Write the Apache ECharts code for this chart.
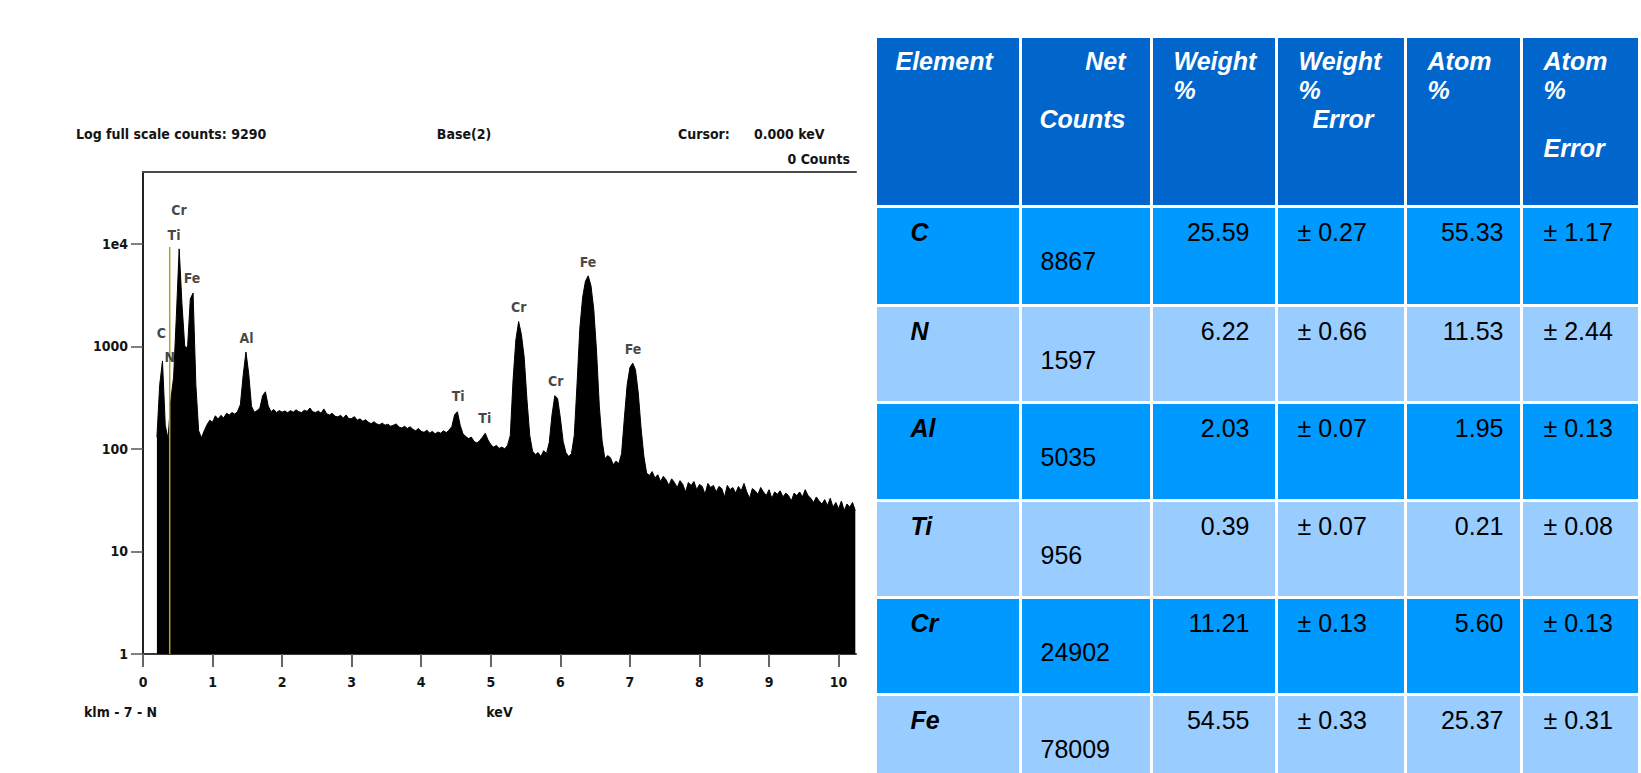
<!DOCTYPE html>
<html>
<head>
<meta charset="utf-8">
<title>klm - 7 - N : EDS spectrum and quantification</title>
<script src="https://cdn.jsdelivr.net/npm/echarts@6/dist/echarts.min.js"></script>
<style>
  html, body { margin: 0; padding: 0; background: #fff; }
  #page { position: relative; width: 1641px; height: 773px; overflow: hidden; background: #fff; }
  #chart { position: absolute; left: 0; top: 0; width: 870px; height: 773px; }
  #results { position: absolute; left: 0; top: 0; width: 1641px; height: 773px; pointer-events: none; }
  .cell {
    position: absolute;
    box-sizing: border-box;
    font-family: 'Liberation Sans', Arial, sans-serif;
    font-size: 25px;
    line-height: 29px;
    white-space: pre;
    color: #000;
  }
  .head { background: #0066cc; color: #fff; font-weight: bold; font-style: italic; }
  .dark { background: #0099ff; }
  .light { background: #99ccff; }
  .el { font-weight: bold; font-style: italic; }
</style>
</head>
<body>
<div id="page">
  <div id="chart"></div>
  <div id="results"></div>
</div>
<script>
// spectrum: counts per channel, channels 0.04 keV wide starting at 0.20 keV
const firstChannelKeV = 0.2
const channelKeV = 0.04
const counts = [
  130, 420, 720, 170, 125, 300, 500, 2000, 8900, 2600,     // 0.20
  1000, 960, 2900, 3300, 420, 150, 128, 150, 172, 190,     // 0.60
  182, 210, 195, 212, 200, 222, 214, 226, 218, 232,        // 1.00
  270, 520, 880, 540, 260, 228, 236, 250, 330, 360,        // 1.40
  262, 230, 242, 226, 236, 228, 234, 225, 236, 228,        // 1.80
  240, 230, 226, 238, 232, 250, 230, 226, 234, 222,        // 2.20
  245, 220, 214, 222, 208, 205, 212, 200, 214, 196,        // 2.60
  198, 206, 190, 196, 186, 192, 182, 176, 184, 175,        // 3.00
  172, 178, 170, 174, 166, 170, 175, 163, 160, 166,        // 3.40
  158, 164, 155, 150, 158, 148, 145, 152, 143, 148,        // 3.80
  140, 146, 142, 150, 144, 152, 165, 215, 230, 170,        // 4.20
  140, 132, 126, 130, 118, 114, 120, 130, 142, 122,        // 4.60
  110, 104, 108, 101, 104, 100, 108, 135, 470, 1150,       // 5.00
  1740, 1300, 780, 300, 135, 95, 88, 92, 84, 96,           // 5.40
  90, 115, 215, 330, 310, 200, 118, 92, 84, 90,            // 5.80
  135, 430, 1500, 3000, 4300, 4860, 3900, 2300, 900, 260,  // 6.20
  120, 80, 86, 82, 70, 76, 72, 90, 200, 420,               // 6.60
  620, 685, 590, 350, 160, 85, 58, 55, 60, 52,             // 7.00
  56, 48, 54, 50, 44, 51, 47, 42, 49, 45,                  // 7.40
  38, 47, 44, 48, 40, 45, 43, 36, 46, 42,                  // 7.80
  44, 38, 43, 41, 34, 44, 40, 42, 37, 43,                  // 8.20
  39, 46, 38, 33, 41, 39, 36, 42, 38, 35,                  // 8.60
  40, 33, 38, 36, 39, 34, 37, 35, 31, 37,                  // 9.00
  35, 38, 34, 40, 35, 33, 30, 34, 31, 29,                  // 9.40
  32, 28, 33, 27, 30, 26, 31, 25, 29, 27,                  // 9.80
  30, 25                                                   // 10.20
]

// peak identification labels (energy, height at which the label sits)
const peakNames = ['C', 'N', 'Cr', 'Ti', 'Fe', 'Al', 'Ti', 'Ti', 'Cr', 'Cr', 'Fe', 'Fe']
const peakKeV = [0.264, 0.384, 0.517, 0.446, 0.705, 1.487, 4.53, 4.914, 5.403, 5.935, 6.399, 7.046]
const peakLabelCounts = [1362, 785, 21080, 12200, 4620, 1202, 331, 200, 2410, 460, 6620, 946]

// cursor marker
const cursorKeV = 0.384
const fullScaleCounts = 9290

// axes
const xTicks = [0, 1, 2, 3, 4, 5, 6, 7, 8, 9, 10]
const yTicks = [1, 10, 100, 1000, 10000]
const yTickLabels = ['1', '10', '100', '1000', '1e4']
const xMax = 10.25
const yMax = 50000

// quantification table
const elements = ['C', 'N', 'Al', 'Ti', 'Cr', 'Fe']
const netCounts = ['8867', '1597', '5035', '956', '24902', '78009']
const weightPct = ['25.59', '6.22', '2.03', '0.39', '11.21', '54.55']
const weightErr = ['0.27', '0.66', '0.07', '0.07', '0.13', '0.33']
const atomPct = ['55.33', '11.53', '1.95', '0.21', '5.60', '25.37']
const atomErr = ['1.17', '2.44', '0.13', '0.08', '0.13', '0.31']

const chartFont = {
  fontFamily: '"DejaVu Sans Condensed", "DejaVu Sans", sans-serif',
  fontWeight: 'bold',
  fontSize: 14,
  color: '#141414'
}

const spectrumData = counts.map((c, i) => [
  +(firstChannelKeV + i * channelKeV).toFixed(2),
  c
])

const chart = echarts.init(document.getElementById('chart'), null, { renderer: 'svg' })

const headerText = (text, x, y, align) => ({
  type: 'text',
  x,
  y,
  silent: true,
  style: {
    text,
    fill: chartFont.color,
    fontFamily: chartFont.fontFamily,
    fontWeight: chartFont.fontWeight,
    fontSize: chartFont.fontSize,
    align,
    verticalAlign: 'middle'
  }
})

chart.setOption({
  animation: false,
  grid: { left: 143, top: 172, width: 713, height: 482 },
  xAxis: [
    {
      type: 'value',
      position: 'bottom',
      min: 0,
      max: xMax,
      name: 'keV',
      nameLocation: 'middle',
      nameGap: 51,
      nameTextStyle: { ...chartFont },
      axisLine: { onZero: false, lineStyle: { color: '#3a3a3a', width: 2 } },
      axisTick: { customValues: xTicks, length: 13, lineStyle: { color: '#666', width: 2 } },
      axisLabel: { customValues: xTicks, margin: 21, ...chartFont },
      splitLine: { show: false }
    },
    {
      type: 'value',
      position: 'top',
      min: 0,
      max: xMax,
      axisLine: { show: true, onZero: false, lineStyle: { color: '#4a4a4a', width: 2 } },
      axisTick: { show: false },
      axisLabel: { show: false },
      splitLine: { show: false }
    }
  ],
  yAxis: {
    type: 'log',
    logBase: 10,
    min: 1,
    max: yMax,
    axisLine: { show: true, lineStyle: { color: '#222', width: 2 } },
    axisTick: { show: true, customValues: yTicks, length: 12, lineStyle: { color: '#555', width: 1.5 } },
    axisLabel: {
      customValues: yTicks,
      margin: 15,
      ...chartFont,
      formatter: (v) => yTickLabels[yTicks.indexOf(Math.round(v))]
    },
    splitLine: { show: false }
  },
  series: [
    {
      type: 'line',
      name: 'spectrum',
      data: spectrumData,
      symbol: 'none',
      silent: true,
      lineStyle: { color: '#000', width: 1 },
      areaStyle: { color: '#000', opacity: 1, origin: 'start' },
      z: 2
    },
    {
      type: 'line',
      name: 'cursor',
      data: [[cursorKeV, 1], [cursorKeV, fullScaleCounts]],
      symbol: 'none',
      silent: true,
      lineStyle: { color: '#b3a522', width: 1.5 },
      z: 3
    },
    {
      type: 'scatter',
      name: 'peaks',
      data: peakNames.map((name, i) => ({ name, value: [peakKeV[i], peakLabelCounts[i]] })),
      symbolSize: 1,
      itemStyle: { color: 'rgba(0,0,0,0)' },
      silent: true,
      label: { show: true, position: 'inside', formatter: '{b}', ...chartFont },
      z: 4
    }
  ],
  graphic: [
    headerText('Log full scale counts: 9290', 76, 134, 'left'),
    headerText('Base(2)', 464, 134, 'center'),
    headerText('Cursor:', 678, 134, 'left'),
    headerText('0.000 keV', 754, 134, 'left'),
    headerText('0 Counts', 850, 159, 'right'),
    headerText('klm - 7 - N', 84, 712, 'left')
  ]
})

// results table beside the spectrum
const colEdges = [875, 1020, 1151, 1276, 1405, 1521, 1639]
const rowEdges = [36, 206, 305, 402.5, 500, 597, 694, 791]
const table = document.getElementById('results')

const addCell = (col, row, cls, lines, align, pad, padTop) => {
  const div = document.createElement('div')
  div.className = 'cell ' + cls
  div.style.left = (colEdges[col] + 1.5) + 'px'
  div.style.top = (rowEdges[row] + 1.5) + 'px'
  div.style.width = (colEdges[col + 1] - colEdges[col] - 3) + 'px'
  div.style.height = (rowEdges[row + 1] - rowEdges[row] - 3) + 'px'
  div.style.textAlign = align
  div.style.paddingTop = padTop + 'px'
  if (align === 'right') div.style.paddingRight = pad + 'px'
  else div.style.paddingLeft = pad + 'px'
  div.textContent = lines.join('\n')
  table.appendChild(div)
}

addCell(0, 0, 'head', ['Element'], 'left', 19, 9)
addCell(1, 0, 'head', ['Net', '', 'Counts'], 'right', 24, 9)
addCell(2, 0, 'head', ['Weight', '%'], 'left', 21, 9)
addCell(3, 0, 'head', ['Weight', '%', '  Error'], 'left', 21, 9)
addCell(4, 0, 'head', ['Atom', '%'], 'left', 21, 9)
addCell(5, 0, 'head', ['Atom', '%', '', 'Error'], 'left', 21, 9)

elements.forEach((el, i) => {
  const row = i + 1
  const shade = i % 2 === 0 ? 'dark' : 'light'
  addCell(0, row, shade + ' el', [el], 'left', 34, 10)
  addCell(1, row, shade, ['', netCounts[i]], 'left', 19, 10)
  addCell(2, row, shade, [weightPct[i]], 'right', 25, 10)
  addCell(3, row, shade, ['± ' + weightErr[i]], 'left', 20, 10)
  addCell(4, row, shade, [atomPct[i]], 'right', 16, 10)
  addCell(5, row, shade, ['± ' + atomErr[i]], 'left', 21, 10)
})
</script>
</body>
</html>
